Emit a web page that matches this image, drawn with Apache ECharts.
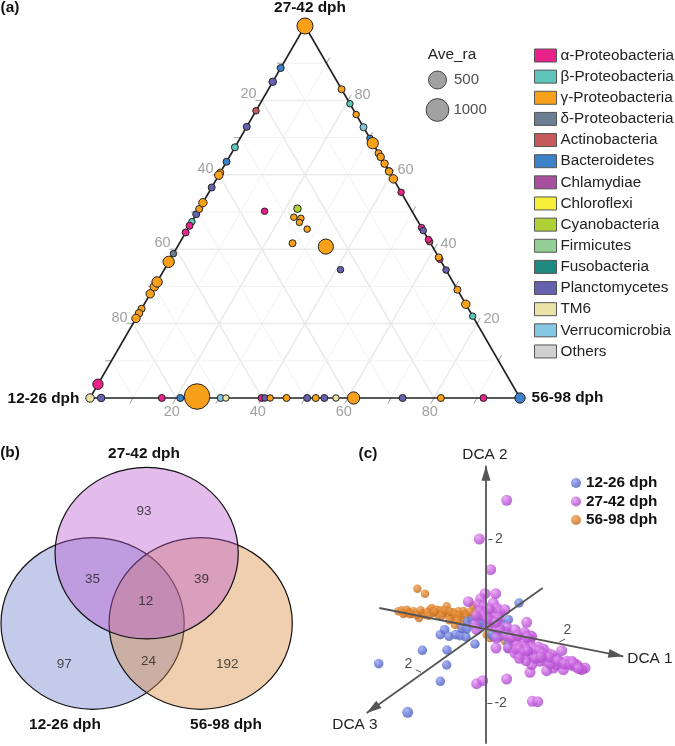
<!DOCTYPE html>
<html><head><meta charset="utf-8">
<style>html,body{margin:0;padding:0;background:#fff}#c{width:675px;height:746px}</style>
<script src="https://cdn.jsdelivr.net/npm/echarts@6/dist/echarts.min.js"></script>
</head><body><div id="c"></div>
<script>
const FONT='"Liberation Sans",Arial,sans-serif';
// ---- panel (a): ternary rows are [27-42 dph %, 12-26 dph %, 56-98 dph %, Ave_ra]
const taxa=['α-Proteobacteria','β-Proteobacteria','γ-Proteobacteria','δ-Proteobacteria','Actinobacteria','Bacteroidetes','Chlamydiae','Chloroflexi','Cyanobacteria','Firmicutes','Fusobacteria','Planctomycetes','TM6','Verrucomicrobia','Others'];
const taxaColors=['#e9218b','#5fc4ba','#f9a01b','#6b7d93','#c45a5c','#3c82c8','#a94f9f','#f5ef3a','#aed136','#93cf95','#1f8a80','#6561ae','#ebe3a7','#85c8e6','#d0d0d0'];
const alphaRows=[[46.3,53.7,0,1],[44.5,55.5,0,1],[3.7,96.3,0,56],[0,83.3,16.7,1],[0,60.1,39.9,1],[0,8.5,91.5,1],[55.3,0,44.7,0],[45.8,0,54.2,0],[42.6,0,57.4,0],[37.3,0,62.7,0],[50.2,34.3,15.5,0]];
const betaRows=[[67.4,32.6,0,1],[47.4,52.6,0,0],[79.1,0,20.9,0],[22,0,78,0]];
const gammaRows=[[100,0,0,346],[60.6,39.4,0,1],[59.9,40.1,0,14],[50.8,49.2,0,1],[52.5,47.5,0,14],[36.6,63.4,0,88],[29.9,70.1,0,14],[31.2,68.8,0,56],[28,72,0,14],[24,76,0,1],[22.8,77.2,0,4],[21.4,78.6,0,14],[0.4,74.9,24.7,1369],[0,58.1,41.9,0],[0,54.3,45.7,1],[0,47.5,52.5,1],[0,38.7,61.3,126],[0,18.4,81.6,1],[83,0,17,1],[76.2,0,23.8,0],[65.8,0,34.2,1],[68.5,0,31.5,88],[64.8,0,35.2,4],[63,0,37,4],[61.1,0,38.9,0],[60.9,0,39.1,4],[58.9,0,41.1,14],[37.8,0,62.2,1],[29.1,0,70.9,1],[25.2,0,74.8,14],[48.6,28.3,23.1,0],[48.3,26.8,24.9,0],[47.2,27.7,25.1,0],[45.4,26.8,27.8,0],[41.6,32.1,26.3,1],[40.7,24.8,34.5,282]];
const deltaRows=[[38.8,61.2,0,0]];
const actinoRows=[[77.2,22.8,0,0],[42,0,58,0]];
const bacteroRows=[[88.7,11.3,0,1],[63.5,36.5,0,1],[0,79,21,1],[69.8,0,30.2,0],[0,0,100,56]];
const cyanoRows=[[50.9,26.3,22.8,4]];
const planctRows=[[85,15,0,4],[72.9,27.1,0,1],[56.6,43.4,0,1],[49.4,50.6,0,1],[0,97.4,2.6,4],[0,59.3,40.7,0],[0,49.5,50.5,1],[0,45.5,54.5,1],[0,27.3,72.7,1],[45,0,55,0],[34.4,0,65.6,0],[34.5,24.5,41,0]];
const tm6Rows=[[0,100,0,14],[0,68.4,31.6,0],[0,42.8,57.2,0]];
const verrucoRows=[[72.8,0,27.2,1],[0,69.6,30.4,1]];
const ternaryTicks=[20,40,60,80];
const aveLegendValues=[500,1000];
// ---- panel (b)
const vennNames=['27-42 dph','12-26 dph','56-98 dph'];
const vennCounts=[93,35,39,12,97,24,192];
const vennCountX=[1.56,1.00,2.19,1.58,0.69,1.61,2.47];
const vennCountY=[2.31,1.52,1.52,1.26,0.53,0.56,0.53];
// ---- panel (c): sample scores
const dcaGroups=['12-26 dph','27-42 dph','56-98 dph'];
const dca12=[[-322,-104],[-235,-250],[-191,-64],[-117,-63],[-118,-108],[-137,-157],[-33,-45],[-137,-17],[-124,-2],[-111,-22],[-91,-17],[-78,-20],[-60,-24],[-73,2],[-58,0],[-56,23],[-40,28],[-23,33],[-13,28],[-20,18],[-8,18],[2,23],[12,28],[45,16],[67,28],[99,78],[17,-17],[24,-24],[62,-7],[67,-42],[67,-57],[42,-22]];
const dca27=[[62,386],[-20,270],[14,178],[29,106],[-3,106],[-16,91],[-53,82],[-23,73],[-8,68],[22,78],[32,63],[-18,53],[2,48],[22,48],[42,53],[57,58],[37,33],[17,23],[122,20],[-33,13],[32,3],[62,6],[87,-2],[132,-20],[107,-17],[32,-27],[82,-32],[112,-32],[132,-32],[30,-57],[67,-57],[92,-47],[112,-52],[137,-54],[157,-54],[172,-60],[87,-72],[102,-77],[122,-77],[142,-87],[162,-97],[182,-97],[207,-87],[227,-65],[222,-97],[242,-97],[257,-97],[267,-112],[282,-117],[297,-117],[232,-122],[202,-117],[182,-125],[132,-130],[137,-107],[-28,-164],[-10,-155],[62,-150],[139,-217],[155,-218],[182,-72],[152,-77],[177,-77],[197,-77],[212,-107],[192,-104],[247,-104],[272,-107],[287,-122],[117,-57],[147,-62],[92,-62],[42,-2],[7,13],[-28,-2],[137,-22],[100,-60],[115,-70],[125,-65],[160,-65],[170,-75],[190,-85],[215,-95],[235,-105],[255,-108],[262,-102],[277,-118],[150,-88],[165,-85],[120,-95],[100,-88],[60,-20],[75,-25],[95,-20],[115,-10],[125,-25],[-10,40],[10,60],[-30,40],[5,30],[30,20]];
const dca56=[[-263,53],[-253,56],[-243,48],[-233,50],[-218,53],[-223,46],[-201,33],[-193,48],[-183,43],[-168,58],[-163,63],[-158,48],[-148,58],[-143,43],[-138,56],[-128,48],[-118,68],[-113,43],[-103,33],[-98,50],[-88,38],[-83,53],[-73,33],[-63,46],[-53,33],[-43,43],[-33,38],[-38,70],[-93,13],[-73,10],[2,-17],[12,-27],[57,-37],[87,-54],[-206,121],[-183,106],[72,-42],[-248,45],[-238,58],[-228,44],[-208,42],[-196,56],[-176,50],[-172,40],[-153,52],[-133,40],[-123,56],[-108,52],[-93,44],[-78,42],[-68,54],[-58,40],[-48,52],[-28,46],[-23,33],[-110,26],[-85,26]];
const dcaAxis1=[[-320,63],[412,-82]];
const dcaAxis2=[[0,-344],[0,490]];
const dcaAxis3=[[170,123],[-358,-252]];
const dcaTickMarks=[[[7,270],[20,270]],[[4,-222],[19,-222]],[[220,-39],[237,-30]],[[-211,-122],[-195,-130]]];
const dcaTickLabels=[['2',39,270],['-2',44,-222],['2',244,-4],['2',-233,-104]];

const ternXY=r=>[r[2]+r[0]/2,r[0]];
const sizeOf=v=>6.5+0.514*Math.sqrt(v);
const rowsByTaxon={'α-Proteobacteria':alphaRows,'β-Proteobacteria':betaRows,'γ-Proteobacteria':gammaRows,'δ-Proteobacteria':deltaRows,'Actinobacteria':actinoRows,'Bacteroidetes':bacteroRows,'Cyanobacteria':cyanoRows,'Planctomycetes':planctRows,'TM6':tm6Rows,'Verrucomicrobia':verrucoRows};
const drawOrder=['β-Proteobacteria','Actinobacteria','δ-Proteobacteria','Chlamydiae','Chloroflexi','Firmicutes','Fusobacteria','Others','Bacteroidetes','α-Proteobacteria','Planctomycetes','Verrucomicrobia','TM6','Cyanobacteria','γ-Proteobacteria'];

// gridlines and outline of the triangle, described in ternary percentages
function gridSegs(vals){
  const out=[];
  vals.forEach(v=>{
    const segs=[[[v,100-v,0],[v,0,100-v]],[[100-v,v,0],[0,v,100-v]],[[100-v,0,v],[0,100-v,v]]];
    segs.forEach(s=>{out.push(ternXY(s[0]),ternXY(s[1]),['-','-']);});
  });
  return out;
}
function tickSegs(){
  const out=[],e=1.5;
  [10,20,30,40,50,60,70,80,90].forEach(v=>{
    out.push(ternXY([v,100-v,0]),ternXY([v,100-v+e,-e]),['-','-']);
    out.push(ternXY([v,0,100-v]),ternXY([v+e,-e,100-v]),['-','-']);
    out.push(ternXY([0,100-v,v]),ternXY([-e,100-v+e,v]),['-','-']);
  });
  return out;
}
const base={type:'scatter',xAxisIndex:0,yAxisIndex:0,clip:false,silent:true};
const series=[];
const lineBase={type:'line',xAxisIndex:0,yAxisIndex:0,showSymbol:false,symbol:'none',silent:true,clip:false,connectNulls:false,legendHoverLink:false,z:1};
series.push({...lineBase,data:gridSegs([10,30,50,70,90]),lineStyle:{color:'#f2f2f2',width:1}});
series.push({...lineBase,data:gridSegs(ternaryTicks),lineStyle:{color:'#ebebeb',width:1.5}});
series.push({...lineBase,data:tickSegs(),lineStyle:{color:'#888',width:0.8}});
series.push({...lineBase,data:[ternXY([100,0,0]),ternXY([0,100,0]),ternXY([0,0,100]),ternXY([100,0,0])],lineStyle:{color:'#222',width:1.6}});
// tick labels
const tickLabel=(pts,off)=>({...base,symbolSize:1,itemStyle:{color:'transparent'},data:pts,label:{show:true,position:'inside',offset:off,color:'#8a8a8a',fontSize:14.5,fontFamily:FONT,formatter:p=>p.value[2]}});
series.push(tickLabel(ternaryTicks.map(v=>[...ternXY([100-v,v,0]),v]),[-13.5,-6]));
series.push(tickLabel(ternaryTicks.map(v=>[...ternXY([v,0,100-v]),v]),[14.5,-5]));
series.push(tickLabel(ternaryTicks.map(v=>[...ternXY([0,100-v,v]),v]),[-4.3,13.7]));
// taxa
drawOrder.forEach(name=>{
  const rows=rowsByTaxon[name]||[];
  series.push({...base,name,z:3,symbolSize:d=>sizeOf(d[2]),
    data:rows.map(r=>[...ternXY(r),r[3]]),
    itemStyle:{color:taxaColors[taxa.indexOf(name)],borderColor:'#222',borderWidth:1,opacity:1}});
});
// bubble legend
series.push({...base,xAxisIndex:1,yAxisIndex:1,symbolSize:d=>sizeOf(d[2]),
  data:aveLegendValues.map((v,i)=>({value:[0.5,1-i,v],label:{distance:i?4:7}})),
  itemStyle:{color:'#8a8a8a',borderColor:'#222',borderWidth:1},
  label:{show:true,position:'right',color:'#222',fontSize:15,fontFamily:FONT,formatter:p=>p.value[2]}});
// venn
const vennCircles=[[1,1,1,'rgba(74,95,191,0.33)'],[2.18,1,1,'rgba(217,135,60,0.40)'],[1.59,1.82,1,'rgba(185,87,207,0.40)']];
series.push({type:'custom',xAxisIndex:2,yAxisIndex:2,silent:true,clip:false,
  data:vennCircles.map(c=>c.slice(0,3)),
  renderItem:(p,api)=>{
    const c=api.coord([api.value(0),api.value(1)]),s=api.size([api.value(2),api.value(2)]);
    return {type:'ellipse',shape:{cx:c[0],cy:c[1],rx:s[0],ry:s[1]},style:{fill:vennCircles[p.dataIndex][3],stroke:'#111',lineWidth:1.2}};
  }});
series.push({...base,xAxisIndex:2,yAxisIndex:2,symbolSize:1,itemStyle:{color:'transparent'},z:5,
  data:vennCounts.map((n,i)=>[vennCountX[i],vennCountY[i],n]),
  label:{show:true,position:'inside',color:'#222',fontSize:13.5,fontFamily:FONT,formatter:p=>p.value[2]}});
// dca
const mk=(pts)=>[{coord:pts[0],symbol:'none'},{coord:pts[1],symbol:'none'}];
const ball=(hi,mid,lo)=>({type:'radial',x:0.35,y:0.3,r:0.75,colorStops:[{offset:0,color:hi},{offset:0.5,color:mid},{offset:1,color:lo}]});
series.push({type:'line',xAxisIndex:3,yAxisIndex:3,data:[],silent:true,z:1,
  markLine:{silent:true,animation:false,symbol:['none','none'],label:{show:false},
    lineStyle:{color:'#555',width:1.8,type:'solid'},
    data:[mk(dcaAxis1),mk(dcaAxis2),mk(dcaAxis3)]}});
series.push({type:'line',xAxisIndex:3,yAxisIndex:3,data:[],silent:true,z:1,
  markLine:{silent:true,animation:false,symbol:['none','none'],label:{show:false},
    lineStyle:{color:'#555',width:1,type:'solid'},
    data:dcaTickMarks.map(t=>mk(t))}});
// arrowheads: custom triangles aligned with each axis direction
series.push({type:'custom',xAxisIndex:3,yAxisIndex:3,silent:true,clip:false,z:2,
  data:[dcaAxis1,dcaAxis2,dcaAxis3].map(a=>[a[0][0],a[0][1],a[1][0],a[1][1]]),
  renderItem:(p,api)=>{
    const a=api.coord([api.value(0),api.value(1)]),b=api.coord([api.value(2),api.value(3)]);
    const dx=b[0]-a[0],dy=b[1]-a[1],l=Math.hypot(dx,dy),ux=dx/l,uy=dy/l,L=15,W=4.5;
    const bx=b[0]-ux*L,by=b[1]-uy*L;
    return {type:'polygon',shape:{points:[[b[0],b[1]],[bx-uy*W,by+ux*W],[bx+uy*W,by-ux*W]]},style:{fill:'#555'}};
  }});
series.push({...base,xAxisIndex:3,yAxisIndex:3,symbolSize:1,itemStyle:{color:'transparent'},z:3,
  data:dcaTickLabels.map(t=>[t[1],t[2],t[0]]),
  label:{show:true,position:'inside',color:'#222',fontSize:14,fontFamily:FONT,formatter:p=>p.value[2]}});
series.push({...base,name:'56-98 dph',xAxisIndex:3,yAxisIndex:3,symbolSize:8.5,z:4,data:dca56,itemStyle:{color:ball('#eda055','#df832c','#b8661e')}});
series.push({...base,name:'12-26 dph',xAxisIndex:3,yAxisIndex:3,symbolSize:d=>d[1]<-200?11:9.5,z:4,data:dca12,itemStyle:{color:ball('#97a6ee','#6878d8','#4b5bb8')}});
series.push({...base,name:'27-42 dph',xAxisIndex:3,yAxisIndex:3,symbolSize:11,z:4,data:dca27,itemStyle:{color:ball('#e6a0f0','#c862e0','#a848c4')}});

const hidden=i=>({show:false,gridIndex:i,type:'value'});
const txt=(text,x,y,opt={})=>({type:'text',x,y,style:{text,fill:opt.fill||'#111',font:(opt.bold===false?'':'bold ')+(opt.size||15.4)+'px "Liberation Sans",Arial,sans-serif',textAlign:opt.align||'center',textVerticalAlign:'middle'}});
const chart=echarts.init(document.getElementById('c'),null,{renderer:'canvas'});
chart.setOption({
  animation:false,backgroundColor:'#fff',
  grid:[
    {left:90,width:430,top:26,height:372},
    {left:427,width:21,top:80,height:30},
    {left:1,width:291.3,top:467.3,height:242},
    {left:360,width:315,top:460,height:286}
  ],
  xAxis:[{...hidden(0),min:0,max:100},{...hidden(1),min:0,max:1},{...hidden(2),min:0,max:3.18},{...hidden(3),min:-378,max:567}],
  yAxis:[{...hidden(0),min:0,max:100},{...hidden(1),min:0,max:1},{...hidden(2),min:0,max:2.82},{...hidden(3),min:-351,max:507}],
  legend:[
    {data:taxa,orient:'vertical',left:534,top:48,itemWidth:22,itemHeight:13,itemGap:6.14,selectedMode:false,
     icon:'rect',itemStyle:{borderColor:'#555',borderWidth:1},textStyle:{fontSize:15.3,color:'#222',fontFamily:FONT,padding:[0,0,0,-1]},padding:0},
    {data:dcaGroups,orient:'vertical',left:571,top:475.5,itemWidth:10,itemHeight:10,itemGap:3.5,selectedMode:false,
     icon:'circle',textStyle:{fontSize:15.3,fontWeight:'bold',color:'#111',fontFamily:FONT},padding:0}
  ],
  series,
  graphic:{elements:[
    txt('(a)',10,8),txt('(b)',10,453),txt('(c)',368,454),
    txt(vennNames[0],310,8),txt('12-26 dph',43.5,399),txt('56-98 dph',567.5,398),
    txt('Ave_ra',452,55,{bold:false,fill:'#222'}),
    txt(vennNames[0],144,454),txt(vennNames[1],65,725),txt(vennNames[2],226,725),
    txt('DCA 2',485,455,{bold:false,fill:'#222'}),txt('DCA 1',650,659,{bold:false,fill:'#222'}),txt('DCA 3',355,725,{bold:false,fill:'#222'})
  ]}
});
</script></body></html>
